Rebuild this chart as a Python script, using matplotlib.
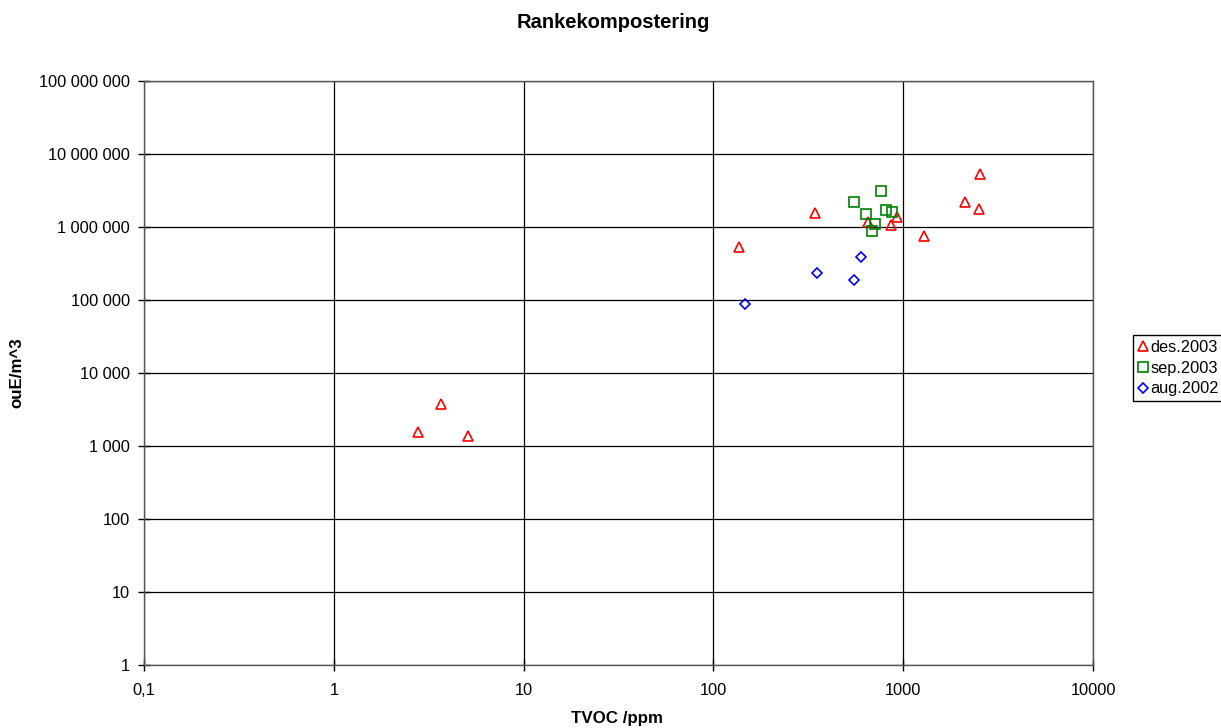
import matplotlib
matplotlib.use("Agg")
import matplotlib.pyplot as plt
from matplotlib.ticker import FixedLocator, FixedFormatter, NullLocator

plt.rcParams['font.family'] = ['Liberation Sans', 'DejaVu Sans']

# Data (TVOC ppm, ouE/m^3)
des2003_x = [2540, 2110, 2520, 342, 932, 653, 859, 1283, 137, 3.65, 2.79, 5.09]
des2003_y = [5.32e6, 2.22e6, 1.75e6, 1.57e6, 1.38e6, 1.18e6, 1.05e6, 7.46e5, 5.27e5, 3760, 1570, 1384]
sep2003_x = [764, 548, 812, 877, 640, 708, 688]
sep2003_y = [3.08e6, 2.22e6, 1.69e6, 1.60e6, 1.52e6, 1.09e6, 8.9e5]
aug2002_x = [597, 350, 553, 146]
aug2002_y = [3.88e5, 2.32e5, 1.90e5, 8.81e4]

x_ticks = [0.1, 1, 10, 100, 1000, 10000]
x_labels = ["0,1", "1", "10", "100", "1000", "10000"]
y_ticks = [1, 10, 100, 1e3, 1e4, 1e5, 1e6, 1e7, 1e8]
y_labels = ["1", "10", "100", "1 000", "10 000", "100 000", "1 000 000", "10 000 000", "100 000 000"]

fig = plt.figure(figsize=(12.21, 7.28), dpi=100)
ax = fig.add_axes([144/1221, 63/728, (1093-144)/1221, (665-81)/728])
ax.set_xscale('log')
ax.set_yscale('log')
ax.set_xlim(0.1, 10000)
ax.set_ylim(1, 1e8)

ax.xaxis.set_major_locator(FixedLocator(x_ticks))
ax.xaxis.set_major_formatter(FixedFormatter(x_labels))
ax.xaxis.set_minor_locator(NullLocator())
ax.yaxis.set_major_locator(FixedLocator(y_ticks))
ax.yaxis.set_major_formatter(FixedFormatter(y_labels))
ax.yaxis.set_minor_locator(NullLocator())
ax.tick_params(axis='both', direction='inout', length=8, width=1, labelsize=11.8, colors='black')
ax.tick_params(axis='y', pad=6)
ax.tick_params(axis='x', pad=9)
ax.grid(True, which='major', color='black', linewidth=0.9)
ax.set_axisbelow(True)
for s in ax.spines.values():
    s.set_color('#555555')
    s.set_linewidth(1)

ax.plot(des2003_x, des2003_y, linestyle='none', marker='^', markersize=7, markerfacecolor='none',
        markeredgecolor='#ff0000', markeredgewidth=1.2, label='des.2003')
ax.plot(sep2003_x, sep2003_y, linestyle='none', marker='s', markersize=6.5, markerfacecolor='none',
        markeredgecolor='#008000', markeredgewidth=1.2, label='sep.2003')
ax.plot(aug2002_x, aug2002_y, linestyle='none', marker='D', markersize=5, markerfacecolor='none',
        markeredgecolor='#0000ff', markeredgewidth=1.2, label='aug.2002')

fig.text(613/1221, 1 - 22/728, 'Rankekompostering', ha='center', va='center', fontsize=14.5, fontweight='bold')
fig.text(617/1221, 1 - 718/728, 'TVOC /ppm', ha='center', va='center', fontsize=12.2, fontweight='bold')
fig.text(17/1221, 1 - 373/728, 'ouE/m^3', ha='center', va='center', rotation=90, fontsize=12.2, fontweight='bold')

leg = fig.legend(loc='upper left', bbox_to_anchor=(1133/1221, 1 - 335/728), fontsize=11.8,
                 frameon=True, fancybox=False, framealpha=1, edgecolor='black',
                 handlelength=0.6, handletextpad=0.15, borderpad=0.3, labelspacing=0.35,
                 borderaxespad=0)
leg.get_frame().set_linewidth(1)

fig.savefig('out.png', dpi=100)
